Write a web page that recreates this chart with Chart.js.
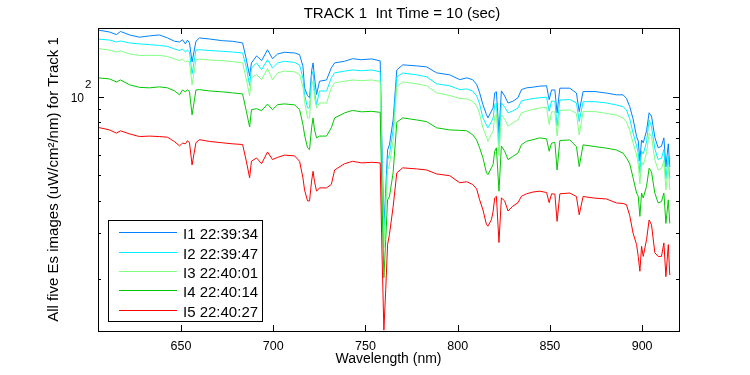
<!DOCTYPE html>
<html><head><meta charset="utf-8">
<script src="https://cdn.jsdelivr.net/npm/chart.js@4/dist/chart.umd.min.js"></script>
<style>html,body{margin:0;padding:0;background:#fff;}canvas{display:block;}</style>
</head><body>
<canvas id="c" width="750" height="375"></canvas>
<script>
// ---- data ----
const wavelengths = [605, 611.2, 615, 617.2, 622.1, 627.5, 632.9, 638.3, 642.7, 646.5,
  649.2, 650.8, 652.4, 653.5, 654.6, 656.0, 658.1, 660.0, 665.5, 672.5,
  677.9, 683.4, 685.5, 687.2, 688.2, 691.0, 693.7, 696.9, 699.6, 702.4,
  706.1, 711.6, 714.3, 716.1, 717.0, 718.6, 719.7, 720.8, 721.6, 722.4,
  723.5, 725.1, 728.9, 731.5, 733.3, 738.7, 743.0, 747.9, 753.4, 758.0,
  759.0, 760.0, 761.0, 762.0, 763.0, 765.0, 767.0, 770.2, 777.8, 783.2,
  788.6, 795.7, 801.1, 804.9, 808.1, 810.3, 811.9, 813.7, 815.6, 816.4,
  818.3, 819.2, 820.1, 821.0, 822.4, 823.7, 825.5, 827.3, 829.9, 832.7,
  834.6, 837.3, 840.9, 844.5, 848.2, 849.6, 850.9, 852.7, 853.9, 855.4,
  860.8, 864.4, 865.9, 868.0, 874.4, 880.7, 886.1, 889.7, 891.5, 893.3,
  895.1, 897.0, 897.9, 898.8, 899.7, 900.6, 902.4, 903.8, 905.1, 906.9,
  908.7, 910.5, 911.8, 912.9, 914.2, 915.0];

const i1 = [181.5, 178.4, 174.3, 179.2, 173.8, 170.3, 172.3, 173.8, 169.2, 164.3,
  163.3, 166.6, 160.5, 166.1, 161.9, 136.8, 164.3, 169.2, 167.6, 165.1,
  164.3, 161.9, 139.1, 120.9, 135.6, 144.3, 138.4, 152.4, 140.8, 146.8,
  149.0, 148.1, 145.9, 131.7, 108.7, 101.4, 99.6, 126.1, 135.6, 118.8,
  102.5, 115.3, 116.6, 129.7, 135.6, 137.6, 140.8, 139.5, 140.5, 138.1,
  62.7, 31.5, 44.0, 62.7, 65.6, 81.8, 127.4, 133.3, 132.1, 130.9,
  124.2, 122.0, 116.9, 118.8, 116.9, 112.0, 104.1, 93.7, 85.8, 83.3,
  88.4, 91.0, 104.1, 105.0, 72.8, 105.9, 101.1, 95.1, 96.5, 99.6,
  107.0, 108.7, 109.4, 110.4, 110.7, 97.9, 106.7, 106.7, 87.1, 108.4,
  108.4, 103.8, 88.1, 105.2, 105.2, 103.8, 102.2, 102.2, 99.1, 92.0,
  82.6, 70.6, 67.9, 56.9, 68.5, 66.8, 74.3, 87.2, 84.6, 70.1,
  63.9, 64.8, 69.8, 53.9, 66.2, 53.9];

const i2 = [167.6, 166.1, 163.3, 164.7, 161.9, 160.5, 159.5, 158.3, 157.0, 153.4,
  151.4, 153.4, 149.4, 152.0, 149.4, 122.8, 152.0, 152.4, 151.4, 150.3,
  149.4, 148.1, 129.7, 110.7, 129.7, 135.6, 127.7, 139.5, 129.7, 135.6,
  137.6, 136.2, 132.9, 118.8, 102.4, 91.0, 91.0, 120.6, 126.1, 106.7,
  93.7, 105.7, 105.7, 118.8, 124.2, 126.1, 127.4, 126.5, 127.4, 125.3,
  57.4, 28.8, 40.3, 57.4, 60.1, 74.9, 119.9, 124.0, 122.0, 119.9,
  112.7, 110.7, 107.0, 107.7, 105.7, 101.4, 94.3, 83.3, 78.2, 76.3,
  80.4, 83.3, 93.7, 95.1, 65.6, 95.1, 91.9, 87.1, 88.6, 91.0,
  96.8, 97.9, 98.9, 99.6, 100.1, 88.4, 96.8, 96.4, 77.6, 97.6,
  98.0, 95.1, 80.6, 96.2, 96.2, 95.1, 93.4, 91.9, 89.4, 82.6,
  72.8, 65.0, 61.1, 51.2, 62.1, 60.5, 67.3, 81.8, 77.1, 63.3,
  57.6, 58.3, 63.0, 48.6, 59.4, 48.6];

const i3 = [154.1, 152.0, 149.4, 150.7, 146.8, 144.9, 145.1, 144.9, 143.6, 140.4,
  138.5, 140.4, 136.8, 138.0, 136.8, 111.7, 139.1, 140.4, 139.1, 138.3,
  137.3, 135.6, 116.6, 101.4, 118.8, 122.3, 117.0, 129.0, 117.0, 124.2,
  126.1, 125.3, 122.3, 109.7, 96.5, 83.3, 83.3, 110.4, 115.3, 99.6,
  91.0, 95.1, 95.1, 108.7, 113.7, 115.3, 116.6, 115.9, 116.6, 115.1,
  52.5, 26.4, 36.9, 52.5, 54.9, 68.5, 109.7, 114.7, 112.7, 110.7,
  104.0, 101.6, 98.9, 98.7, 96.5, 92.7, 86.3, 76.3, 70.4, 67.7,
  72.2, 74.1, 84.6, 86.3, 59.5, 85.8, 82.5, 77.4, 79.7, 81.9,
  87.1, 88.4, 89.8, 91.0, 91.4, 78.6, 87.9, 87.9, 71.0, 89.0,
  89.4, 86.7, 71.6, 88.1, 88.1, 86.7, 85.4, 83.1, 80.4, 74.6,
  66.6, 60.0, 55.3, 46.4, 56.4, 54.9, 61.1, 72.8, 70.6, 57.4,
  52.5, 53.2, 57.1, 44.0, 53.9, 44.0];

const i4 = [118.8, 117.7, 114.6, 116.6, 111.7, 109.2, 108.7, 109.7, 108.7, 105.8,
  102.2, 106.7, 104.9, 107.0, 104.9, 85.6, 106.7, 107.0, 105.8, 104.9,
  104.0, 103.0, 87.9, 76.8, 89.6, 90.4, 88.8, 94.2, 89.6, 93.7,
  94.3, 93.5, 89.6, 78.6, 71.6, 63.9, 62.9, 76.3, 83.3, 74.9,
  69.8, 70.9, 70.9, 76.3, 83.3, 87.1, 89.0, 87.9, 88.3, 87.5,
  40.3, 20.2, 28.3, 40.3, 41.4, 51.2, 80.2, 83.3, 81.8, 80.6,
  76.3, 74.9, 74.6, 74.3, 71.8, 68.5, 63.9, 58.5, 51.2, 50.4,
  53.5, 55.1, 62.0, 63.9, 43.5, 64.9, 62.0, 57.6, 59.2, 61.0,
  65.7, 67.7, 68.7, 69.8, 69.2, 62.0, 66.6, 67.1, 52.5, 68.2,
  68.5, 64.6, 54.1, 65.6, 64.6, 63.7, 62.7, 60.9, 58.5, 55.4,
  49.0, 42.8, 41.6, 34.8, 42.8, 41.0, 45.4, 53.3, 51.6, 42.8,
  39.2, 39.7, 42.8, 32.7, 40.3, 32.7];

const i5 = [76.6, 74.9, 72.8, 74.3, 72.3, 70.6, 70.9, 70.6, 70.2, 67.5,
  65.0, 66.6, 66.2, 68.1, 66.8, 54.9, 66.9, 68.7, 67.6, 66.8,
  66.2, 65.8, 56.4, 49.0, 56.8, 58.4, 55.5, 61.6, 57.6, 58.7,
  59.9, 59.5, 56.7, 49.0, 44.0, 39.9, 39.9, 47.6, 51.9, 47.3,
  43.5, 44.8, 44.8, 46.2, 52.5, 55.5, 56.7, 55.9, 56.2, 55.9,
  24.8, 12.7, 18.2, 27.1, 29.6, 37.9, 51.2, 53.5, 53.0, 52.5,
  50.7, 49.9, 46.9, 47.3, 46.2, 44.4, 40.3, 36.9, 32.4, 31.9,
  33.8, 36.3, 41.0, 41.6, 27.6, 41.0, 39.9, 36.5, 38.1, 39.3,
  41.6, 42.5, 43.2, 43.5, 43.0, 39.3, 42.5, 42.4, 33.3, 42.5,
  42.8, 41.5, 35.3, 41.5, 40.9, 40.6, 39.2, 39.0, 38.6, 35.0,
  30.0, 27.1, 24.4, 21.4, 26.7, 24.4, 28.3, 33.7, 32.3, 25.2,
  24.4, 24.4, 27.5, 20.4, 27.1, 20.7];

const seriesLabels = ['I1 22:39:34', 'I2 22:39:47', 'I3 22:40:01', 'I4 22:40:14', 'I5 22:40:27'];
const xTickValues = [650, 700, 750, 800, 850, 900];
const yTickValues = [20, 30, 40, 50, 60, 70, 80, 90, 100];
const titleText = 'TRACK 1  Int Time = 10 (sec)';
const xLabelText = 'Wavelength (nm)';
const yLabelText = 'All five Es images (uW/cm\u00B2/nm) for Track 1';

// ---- chart ----
const FONT = '"Liberation Sans", Arial, Helvetica, sans-serif';
const colors = ['#0080ff', '#00f0ff', '#80ff80', '#00c800', '#ff0000'];
const allSeries = [i1, i2, i3, i4, i5];

const datasets = allSeries.map((s, k) => ({
  label: seriesLabels[k],
  data: wavelengths.map((w, i) => ({ x: w, y: s[i] })),
  borderColor: colors[k],
  backgroundColor: colors[k],
  borderWidth: 1,
  pointRadius: 0,
  tension: 0,
  fill: false,
  order: 4 - k
}));

const frame = {
  id: 'matlabFrame',
  afterDraw(chart) {
    const { ctx, chartArea: a, scales } = chart;
    const xs = scales.x, ys = scales.y;
    const L = Math.round(a.left), R = Math.round(a.right), T = Math.round(a.top), B = Math.round(a.bottom);
    ctx.save();
    ctx.strokeStyle = '#000';
    ctx.fillStyle = '#000';
    ctx.lineWidth = 1;
    ctx.strokeRect(L + 0.5, T + 0.5, R - L, B - T);
    ctx.beginPath();
    xTickValues.forEach(v => {
      const px = Math.round(xs.getPixelForValue(v)) + 0.5;
      ctx.moveTo(px, B); ctx.lineTo(px, B - 6);
      ctx.moveTo(px, T); ctx.lineTo(px, T + 6);
    });
    yTickValues.forEach(v => {
      const py = Math.round(ys.getPixelForValue(v)) + 0.5;
      const len = (v === 100) ? 6 : 3;
      ctx.moveTo(L, py); ctx.lineTo(L + len, py);
      ctx.moveTo(R, py); ctx.lineTo(R - len, py);
    });
    ctx.stroke();

    // x tick labels
    ctx.font = '12.5px ' + FONT;
    ctx.textAlign = 'center';
    ctx.textBaseline = 'alphabetic';
    xTickValues.forEach(v => {
      ctx.fillText(String(v), xs.getPixelForValue(v), B + 19);
    });
    // y tick label 10^2
    const p100 = ys.getPixelForValue(100);
    ctx.font = '12px ' + FONT;
    ctx.textAlign = 'right';
    ctx.fillText('10', L - 14, p100 + 4.5);
    ctx.font = '11.5px ' + FONT;
    ctx.textAlign = 'left';
    ctx.fillText('2', L - 13, p100 - 9.5);

    // title
    ctx.font = '15px ' + FONT;
    ctx.textAlign = 'center';
    ctx.fillText(titleText, 402, 18);
    // y label
    ctx.save();
    ctx.translate(57.5, (T + B) / 2);
    ctx.rotate(-Math.PI / 2);
    ctx.fillText(yLabelText, 0, 0);
    ctx.restore();
    // x label
    ctx.font = '14px ' + FONT;
    ctx.fillText(xLabelText, (L + R) / 2, 363);

    // legend
    ctx.fillStyle = '#fff';
    ctx.fillRect(109, 221, 153, 100);
    ctx.strokeStyle = '#000';
    ctx.strokeRect(108.5, 220.5, 154, 101);
    ctx.font = '15px ' + FONT;
    ctx.textAlign = 'left';
    ctx.textBaseline = 'alphabetic';
    chart.data.datasets.forEach((ds, k) => {
      const ry = Math.round(232.3 + k * 19.35) + 0.5;
      ctx.strokeStyle = ds.borderColor;
      ctx.beginPath();
      ctx.moveTo(119, ry); ctx.lineTo(177, ry);
      ctx.stroke();
      ctx.fillStyle = '#000';
      ctx.fillText(ds.label, 183, ry + 6);
    });
    ctx.restore();
  }
};

new Chart(document.getElementById('c').getContext('2d'), {
  type: 'line',
  data: { datasets },
  options: {
    responsive: false,
    animation: false,
    devicePixelRatio: 1,
    layout: { padding: { left: 98, right: 71, top: 28, bottom: 44 } },
    plugins: { legend: { display: false }, title: { display: false }, tooltip: { enabled: false } },
    scales: {
      x: { type: 'linear', min: 605, max: 920, display: false },
      y: { type: 'logarithmic', min: 12.6, max: 184.8, display: false }
    }
  },
  plugins: [frame]
});
</script>
</body></html>
